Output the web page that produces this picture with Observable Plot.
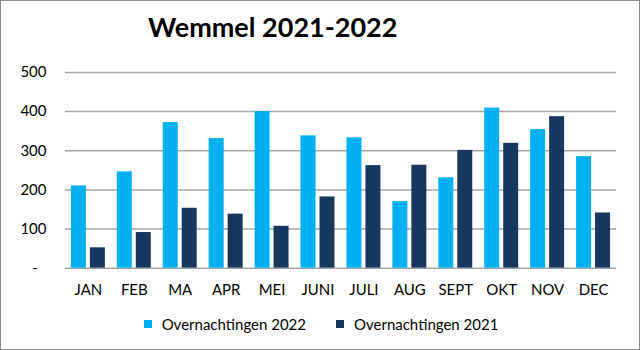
<!DOCTYPE html>
<html>
<head>
<meta charset="utf-8">
<script src="https://cdn.jsdelivr.net/npm/d3@7"></script>
<script src="https://cdn.jsdelivr.net/npm/@observablehq/plot@0.6"></script>
<style>
  html, body { margin: 0; padding: 0; background: #fff; }
  #chart { position: relative; width: 638px; height: 348px; border: 1px solid #8c8c8c; background: #fff; font-family: Lato, "Open Sans", sans-serif; overflow: hidden; }
  #title { position: absolute; left: 147px; top: 9px; font-size: 27px; font-weight: bold; color: #000; white-space: nowrap; }
  #plot { position: absolute; left: -1px; top: 49px; }
  #legend { position: absolute; left: 0; top: 314px; width: 640px; display: flex; justify-content: center; gap: 30px; font-size: 15px; color: #000; }
  .item { display: flex; align-items: center; gap: 10px; }
  .sw { width: 8px; height: 8px; display: inline-block; }
</style>
</head>
<body>
<div id="chart">
  <div id="title">Wemmel 2021-2022</div>
  <div id="plot"></div>
  <div id="legend"></div>
</div>
<script>
const months = ["JAN","FEB","MA","APR","MEI","JUNI","JULI","AUG","SEPT","OKT","NOV","DEC"];
const series = ["Overnachtingen 2022", "Overnachtingen 2021"];
const values2022 = [210, 246, 372, 331, 400, 338, 333, 170, 231, 409, 354, 285];
const values2021 = [52, 91, 153, 138, 107, 182, 262, 263, 301, 319, 387, 141];
const colors = ["#00B0F0", "#17375E"];
const yTicks = [0, 100, 200, 300, 400, 500];

const data = [];
months.forEach((m, i) => {
  data.push({month: m, series: series[0], value: values2022[i]});
  data.push({month: m, series: series[1], value: values2021[i]});
});

const plot = Plot.plot({
  width: 640,
  height: 256,
  marginLeft: 60,
  marginRight: 19,
  marginTop: 22,
  marginBottom: 38,
  style: {fontFamily: "Lato, 'Open Sans', sans-serif", fontSize: "15px", color: "#000", background: "transparent"},
  fx: {domain: months, padding: 0, label: null, axis: "bottom", tickSize: 0, tickPadding: 16},
  x: {domain: series, paddingInner: 0.205, paddingOuter: 0.3, axis: null},
  y: {domain: [0, 500], label: null},
  color: {domain: series, range: colors},
  marks: [
    Plot.axisY(yTicks, {tickSize: 0, tickPadding: 3, dx: -16, tickFormat: d => d === 0 ? "-\u2007" : String(d), label: null, facetAnchor: "left", fontSize: 15}),
    Plot.ruleY(yTicks, {stroke: "#a6a6a6", strokeWidth: 1.5}),
    Plot.barY(data, {fx: "month", x: "series", y: "value", fill: "series"})
  ]
});
document.getElementById("plot").appendChild(plot);

const legend = document.getElementById("legend");
series.forEach((s, i) => {
  const item = document.createElement("div");
  item.className = "item";
  const sw = document.createElement("span");
  sw.className = "sw";
  sw.style.background = colors[i];
  const t = document.createElement("span");
  t.textContent = s;
  item.appendChild(sw);
  item.appendChild(t);
  legend.appendChild(item);
});
</script>
</body>
</html>
